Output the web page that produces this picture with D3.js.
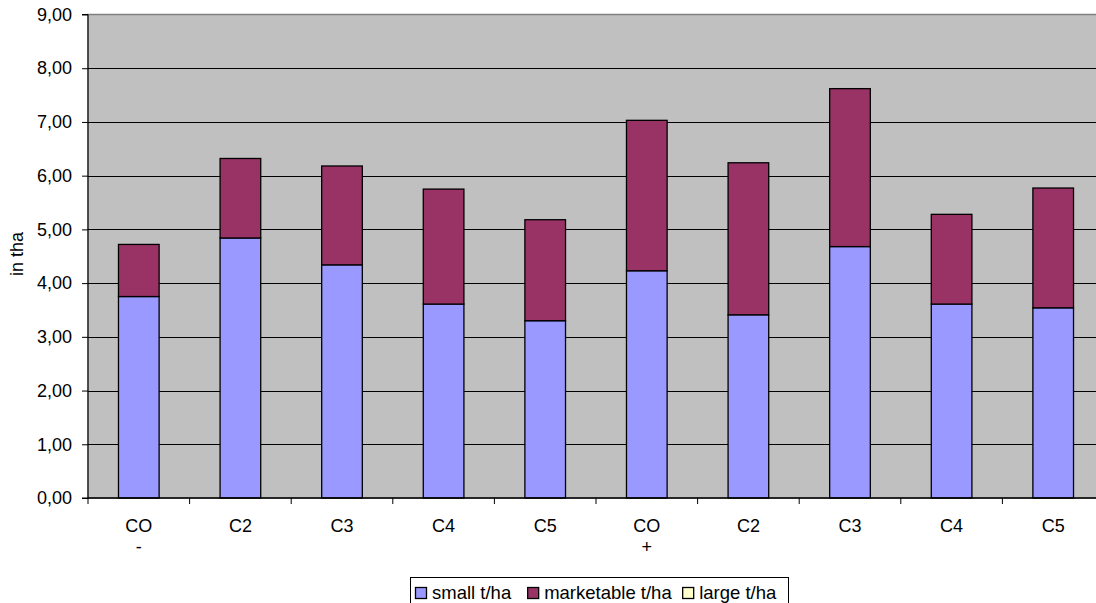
<!DOCTYPE html>
<html>
<head>
<meta charset="utf-8">
<script src="https://cdn.jsdelivr.net/npm/d3@7"></script>
<style>
  html, body { margin: 0; padding: 0; background: #fff; }
  svg { display: block; font-family: "Liberation Sans", Arial, sans-serif; }
</style>
</head>
<body>
<svg id="chart" width="1096" height="603"></svg>
<script>
// ---- data ----
const categories = ["CO\n-", "C2", "C3", "C4", "C5", "CO\n+", "C2", "C3", "C4", "C5"];
const seriesNames = ["small t/ha", "marketable t/ha", "large t/ha"];
const smallValues = [3.75, 4.84, 4.34, 3.61, 3.30, 4.23, 3.41, 4.68, 3.61, 3.54];
const marketableValues = [0.97, 1.48, 1.84, 2.14, 1.88, 2.80, 2.83, 2.94, 1.67, 2.23];
const largeValues = [0, 0, 0, 0, 0, 0, 0, 0, 0, 0];
const yTicks = [0, 1, 2, 3, 4, 5, 6, 7, 8, 9];
const yLabel = "in tha";
const colors = ["#9999FF", "#993366", "#FFFFCC"];

// ---- layout ----
const svg = d3.select("#chart");
const pLeft = 88, pRight = 1104, pTop = 14.5, pBottom = 498;
const fontSize = 18;
const legendFont = 18.5;

const idx = categories.map((d, i) => i);
const xOuter = d3.scaleBand().domain(idx).range([pLeft, pRight]).padding(0);
const x = d3.scaleBand().domain(idx).range([pLeft, pRight]).paddingInner(0.6).paddingOuter(0.3);
const y = d3.scaleLinear().domain([0, 9]).range([pBottom, pTop]);

// plot background
svg.append("rect").attr("x", pLeft).attr("y", pTop).attr("width", pRight - pLeft).attr("height", pBottom - pTop)
  .attr("fill", "#C0C0C0").attr("stroke", "#808080").attr("stroke-width", 1.5);

// gridlines
svg.append("g").selectAll("line").data(yTicks.filter(t => t > 0 && t < 9)).join("line")
  .attr("x1", pLeft).attr("x2", pRight)
  .attr("y1", d => Math.round(y(d)) + 0.5).attr("y2", d => Math.round(y(d)) + 0.5)
  .attr("stroke", "#000").attr("stroke-width", 1);

// stacked data
const rows = idx.map(i => ({ i, small: smallValues[i], marketable: marketableValues[i], large: largeValues[i] }));
const stack = d3.stack().keys(["small", "marketable", "large"]);
const layers = stack(rows);

svg.append("g").selectAll("g").data(layers).join("g")
  .attr("fill", (d, k) => colors[k])
  .selectAll("rect").data(d => d.filter(s => s[1] - s[0] > 0)).join("rect")
  .attr("x", d => x(d.data.i))
  .attr("width", x.bandwidth())
  .attr("y", d => y(d[1]))
  .attr("height", d => y(d[0]) - y(d[1]))
  .attr("stroke", "#000").attr("stroke-width", 1.3);

// y axis
const yAxis = d3.axisLeft(y).tickValues(yTicks).tickSize(6).tickPadding(10)
  .tickFormat(d => d3.format(".2f")(d).replace(".", ","));
const gy = svg.append("g").attr("transform", `translate(${pLeft},0)`).call(yAxis);
gy.select(".domain").attr("stroke", "#000").attr("d", `M-6,${pTop}H0V${pBottom}H-6`);
gy.selectAll(".tick line").attr("stroke", "#000");
gy.selectAll("text").attr("font-size", fontSize).attr("font-family", "Liberation Sans, Arial, sans-serif").attr("fill", "#000");

// x axis line and ticks at band boundaries
const boundaries = idx.map(i => xOuter(i)).concat([pRight]);
svg.append("line").attr("x1", pLeft).attr("x2", pRight).attr("y1", pBottom).attr("y2", pBottom).attr("stroke", "#000").attr("stroke-width", 1.3);
svg.append("g").selectAll("line").data(boundaries).join("line")
  .attr("x1", d => d).attr("x2", d => d).attr("y1", pBottom).attr("y2", pBottom + 6)
  .attr("stroke", "#000");

// x labels
const xl = svg.append("g").selectAll("text").data(idx).join("text")
  .attr("x", i => xOuter(i) + xOuter.bandwidth() / 2)
  .attr("y", 532)
  .attr("text-anchor", "middle").attr("font-size", fontSize).attr("fill", "#000");
xl.each(function(i) {
  const lines = categories[i].split("\n");
  d3.select(this).selectAll("tspan").data(lines).join("tspan")
    .attr("x", xOuter(i) + xOuter.bandwidth() / 2)
    .attr("dy", (d, k) => k === 0 ? 0 : 21)
    .text(d => d);
});

// y label
svg.append("text").attr("transform", `translate(23,254) rotate(-90)`)
  .attr("text-anchor", "middle").attr("font-size", fontSize).attr("fill", "#000").text(yLabel);

// legend
const lg = svg.append("g");
lg.append("rect").attr("x", 410.5).attr("y", 577.5).attr("width", 378).attr("height", 40)
  .attr("fill", "#fff").attr("stroke", "#000").attr("stroke-width", 1);
const gaps = [16, 10.5, 0];
let cx = 415;
seriesNames.forEach((name, k) => {
  lg.append("rect").attr("x", cx + 0.5).attr("y", 587.5).attr("width", 11).attr("height", 11)
    .attr("fill", colors[k]).attr("stroke", "#000").attr("stroke-width", 1.3);
  const t = lg.append("text").attr("x", cx + 17).attr("y", 598.5).attr("font-size", legendFont).attr("fill", "#000").text(name);
  const w = t.node().getComputedTextLength();
  cx = cx + 17 + w + gaps[k];
});
</script>
</body>
</html>
